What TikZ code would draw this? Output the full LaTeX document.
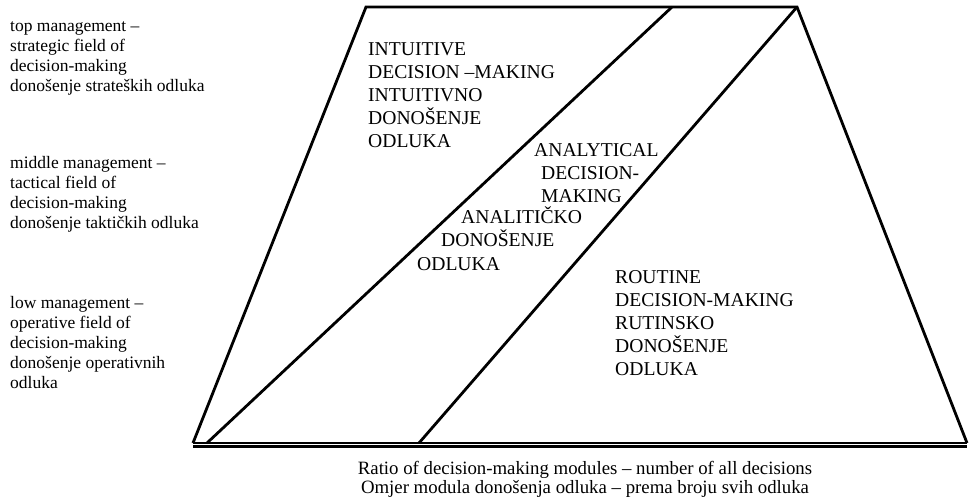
\documentclass[tikz,border=0pt]{standalone}
\usepackage{fontspec}
\setmainfont{Liberation Serif}
\usepackage{xcolor}
\usepackage{tikz}
\usetikzlibrary{positioning,calc}
\definecolor{inkline}{HTML}{000000}
\tikzset{
  edge/.style={draw=inkline, line width=2.8pt, line join=miter},
  levellabel/.style={anchor=base west, align=left, inner sep=0pt, font=\fontsize{17.5}{20}\selectfont},
  fieldlabel/.style={anchor=base west, align=left, inner sep=0pt, font=\fontsize{19.6}{23}\selectfont},
  axislabel/.style={anchor=base, align=center, inner sep=0pt, font=\fontsize{18.8}{19.5}\selectfont}
}
\begin{document}
\begin{tikzpicture}[x=1pt, y=-1pt]
  \useasboundingbox (0,0) rectangle (969,500);

  \coordinate (tl) at (366,7);
  \coordinate (tr) at (797,7);
  \coordinate (bl) at (193,443);
  \coordinate (br) at (967,443);
  \coordinate (cuttop) at (672,7);
  \coordinate (cutbot) at (207,443);
  \coordinate (routbot) at (419,443);

  \draw[edge] (bl) -- (tl) -- (tr) -- (br);
  \draw[edge] (cuttop) -- (cutbot);
  \draw[edge] (tr) -- (routbot);
  \draw[draw=inkline, line width=1.2pt] (bl) -- (br);
  \draw[draw=inkline, line width=2.2pt] ($(bl)+(0,3.5)$) -- ($(br)+(0,3.5)$);

  \node[levellabel] (top) at (10,92) {top management --\\strategic field of\\decision-making\\donošenje strateških odluka};
  \node[levellabel] (middle) at (10,228) {middle management --\\tactical field of\\decision-making\\donošenje taktičkih odluka};
  \node[levellabel] (low) at (10,388) {low management --\\operative field of\\decision-making\\donošenje operativnih\\odluka};

  \node[fieldlabel] (intuitive) at (368,147) {INTUITIVE\\DECISION --MAKING\\INTUITIVNO\\DONOŠENJE\\ODLUKA};
  \node[fieldlabel] (analytical) at (534,202) {ANALYTICAL\\\hspace{7pt}DECISION-\\\hspace{7pt}MAKING};
  \node[fieldlabel] (analiticko) at (461,223) {ANALITIČKO};
  \node[fieldlabel] (analiticko2) at (441,246) {DONOŠENJE};
  \node[fieldlabel] (analiticko3) at (417,270) {ODLUKA};
  \node[fieldlabel] (routine) at (615,375) {ROUTINE\\DECISION-MAKING\\RUTINSKO\\DONOŠENJE\\ODLUKA};

  \node[axislabel] (ratio) at (585,493.5) {Ratio of decision-making modules -- number of all decisions\\Omjer modula donošenja odluka -- prema broju svih odluka};
\end{tikzpicture}
\end{document}
